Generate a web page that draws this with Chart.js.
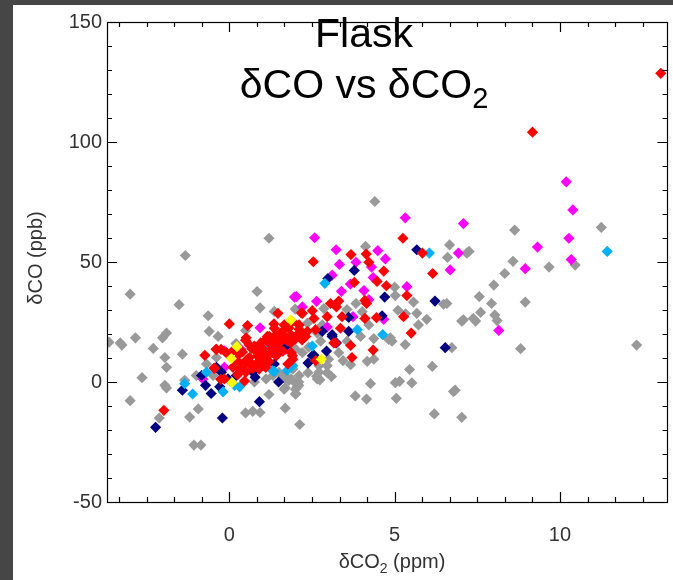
<!DOCTYPE html>
<html>
<head>
<meta charset="utf-8">
<script src="https://cdn.jsdelivr.net/npm/chart.js@4/dist/chart.umd.min.js"></script>
<style>
  html, body { margin: 0; padding: 0; background: #464646; }
  #wrap { position: absolute; left: 13px; top: 5px; width: 660px; height: 575px; background: #fff; }
</style>
</head>
<body>
<div id="wrap"><canvas id="flask"></canvas></div>
<script>
// axis setup
const xTicks = [0, 5, 10];
const yTicks = [-50, 0, 50, 100, 150];
const xRange = [-3.7, 13.25];
const yRange = [-50, 150];
const xMinorStep = 5 / 6;
const yMinorStep = 10;

// dCO2 (ppm), dCO (ppb) pairs, one list per colour group
const grayPts = [
  [1.2, 59.9], [-1.33, 52.7], [-3.0, 36.6], [-1.52, 32.2], [0.84, 37.7], [0.93, 30.9], [-0.64, 27.6], [-0.61, 21.1],
  [-1.9, 20.4], [-2.02, 18.4], [-2.84, 18.4], [-3.3, 16.3], [-3.64, 16.6], [-0.34, 19.0], [0.49, 21.5], [1.36, 29.4],
  [-3.25, 15.4], [-2.3, 14.0], [-1.42, 11.6], [-1.95, 10.2], [-1.9, 6.1], [-2.64, 1.8], [-1.95, -1.4], [-1.9, -2.5],
  [-3.0, -7.8], [-2.12, -15.0], [-0.94, -11.2], [-1.2, -14.6], [-1.07, -26.3], [-0.86, -26.3], [-1.35, 0.7], [-1.0, 2.7],
  [0.49, -12.9], [0.71, -12.2], [0.93, -12.7], [1.2, -5.2], [1.69, -10.9], [1.69, -2.4], [1.77, 1.4],
  [4.12, 56.5], [6.66, 57.1], [6.6, 51.9], [7.18, 53.7], [5.0, 39.5], [5.02, 36.0], [3.83, 32.7], [5.57, 33.3],
  [6.48, 32.4], [6.58, 32.7], [3.56, 30.2], [2.86, 30.6], [5.1, 29.9], [5.67, 28.6], [5.97, 26.1], [7.08, 25.9],
  [7.38, 26.5], [4.87, 18.4], [4.37, 18.1], [4.82, 17.7], [5.32, 15.6], [6.73, 14.3], [4.17, 8.6], [4.37, 9.5],
  [3.44, 8.9], [3.67, 7.2], [5.45, 5.2], [6.14, 6.5], [3.09, 2.3], [4.27, -0.7], [5.02, -0.3], [5.15, 0.3],
  [5.52, -0.4], [6.83, -3.4], [6.78, -4.0], [3.81, -5.8], [4.15, -7.1], [5.05, -6.8], [6.2, -13.3], [7.03, -14.7],
  [2.13, -17.7], [2.71, 4.1], [2.11, 2.7], [2.01, -4.8], [2.06, -2.0], [2.71, 6.8], [2.66, 1.3],
  [8.63, 63.3], [11.25, 64.4], [7.25, 54.4], [8.58, 50.3], [9.67, 47.9], [10.46, 48.7], [8.33, 45.2], [8.0, 40.4],
  [7.56, 35.6], [7.93, 32.7], [8.95, 33.3], [7.6, 29.0], [8.03, 27.9], [8.1, 25.6], [7.45, 25.4], [8.81, 13.9],
  [12.32, 15.4], [4.4, 75.2], [1.66, -3.0], [2.0, -3.0], [2.1, 0.0], [1.8, 0.7], [-0.69, 7.5], [-0.39, 10.2],
  [-0.49, 2.7], [1.92, 5.4], [1.11, 1.3], [1.32, 2.7], [0.76, 0.0], [1.62, 2.7], [1.92, 0.7], [1.87, 16.3],
  [1.92, 18.4], [1.67, 1.6], [2.1, -1.4], [2.0, -5.1], [2.64, 2.4], [2.74, 0.9], [2.38, 3.9], [2.96, 3.9],
  [1.99, 30.4], [5.33, 28.4], [7.03, 25.4], [4.02, 29.3], [4.22, 23.8], [5.72, 23.8], [4.92, 17.0], [3.56, 17.0],
  [3.97, 19.0], [2.81, 23.8], [2.36, 24.5], [2.66, 20.4], [2.01, 13.6], [2.21, 12.2], [2.76, 17.0], [3.31, 12.2],
  [2.96, 6.8], [1.86, 1.3], [0.2, 16.0], [1.5, 4.0], [2.4, 14.5], [3.0, 9.5]
];
const navyPts = [
  [3.78, 46.5], [5.67, 55.1], [2.98, 43.1], [4.7, 35.4], [6.22, 33.7], [3.61, 26.9], [4.62, 27.6], [3.61, 21.1],
  [2.81, 21.1], [3.11, 19.7], [6.53, 14.3], [2.94, 12.9], [2.56, 11.1], [2.38, 7.9], [3.11, 19.0], [2.51, 10.9],
  [-2.23, -18.9], [-0.21, -15.0], [-1.42, -3.4], [-0.84, 2.7], [-0.72, -1.4], [-0.55, -4.8], [0.91, -8.2], [1.49, 0.0],
  [0.78, 2.0], [-0.39, 6.1], [-0.24, 4.1], [-0.04, 1.3], [-0.29, -2.0], [0.21, 2.7], [0.71, 4.1], [1.02, 8.2],
  [1.36, 7.5], [1.52, 12.9], [1.72, 15.0], [1.87, 17.7], [3.24, 16.3]
];
const bluePts = [
  [2.89, 41.1], [6.05, 53.7], [11.43, 54.4], [4.64, 19.7], [3.87, 21.8], [1.86, 7.5], [-1.35, -0.7], [-1.11, -5.0],
  [1.3, 4.8], [1.75, 4.8], [2.51, 15.0], [-0.69, 4.1], [-0.19, -4.1], [0.16, -1.4], [0.31, -2.0], [1.21, 15.0],
  [1.36, 4.4], [1.11, 12.0], [1.92, 6.8]
];
const yellowPts = [
  [0.08, -0.3], [0.23, 14.7], [0.06, 9.8], [1.86, 25.8], [2.78, 9.5]
];
const redPts = [
  [13.05, 128.6], [9.17, 104.1], [5.25, 59.9], [3.68, 53.1], [4.14, 53.3], [2.54, 50.1], [4.22, 49.9], [4.67, 46.2],
  [5.84, 53.7], [6.15, 45.2], [3.78, 41.5], [4.47, 41.9], [4.75, 40.1], [5.37, 36.0], [4.1, 34.0], [4.15, 32.7],
  [3.31, 33.7], [3.06, 32.7], [3.24, 31.3], [2.18, 28.8], [2.56, 26.5], [2.96, 27.2], [3.41, 27.2], [4.1, 26.5],
  [4.45, 26.8], [5.27, 27.2], [5.5, 20.4], [3.36, 22.4], [4.35, 13.3], [3.71, 10.2], [3.21, 16.3], [3.67, 15.2],
  [2.61, 8.9], [1.91, 10.9], [0.0, 24.2], [0.55, 23.5], [1.47, 28.6], [1.35, 24.2], [0.51, 18.4], [-1.98, -11.8],
  [0.46, 0.4], [-0.26, 1.1], [-0.74, 11.1], [-0.39, 13.6], [0.49, 17.4], [0.68, 13.9], [0.85, 10.9], [0.55, 9.5],
  [0.45, 6.8], [0.7, 6.8], [0.9, 5.4], [1.1, 6.1], [0.3, 11.6], [1.1, 11.6], [1.2, 16.3], [1.41, 19.7],
  [1.61, 21.1], [1.86, 19.7], [2.11, 20.4], [2.36, 21.1], [2.31, 19.0], [1.71, 17.7], [1.51, 16.3], [1.86, 16.3],
  [2.11, 23.8], [1.66, 23.8], [1.91, 25.2], [1.36, 22.4], [1.15, 19.0], [0.95, 16.3], [2.61, 21.8], [-0.15, 1.3],
  [0.1, 12.9], [-0.4, 13.6], [0.5, 4.1], [1.3, 13.6], [1.0, 8.2], [2.51, 29.7], [2.21, 28.6], [3.16, 16.3],
  [-0.45, 5.8], [-0.25, 13.6], [2.11, 22.0], [0.76, 15.0], [0.91, 12.2], [0.61, 10.2], [0.81, 7.5], [0.46, 8.2],
  [0.31, 5.4], [0.71, 5.7], [1.02, 6.8], [1.11, 10.2], [1.42, 10.9], [1.62, 12.9], [1.77, 17.0], [1.57, 18.4],
  [1.21, 19.0], [1.87, 12.2], [1.92, 9.5], [1.77, 7.5], [-0.09, 12.2], [0.11, 6.1], [-0.46, 5.7], [1.11, 17.7],
  [1.32, 15.0], [0.2, 9.0], [0.4, 12.5], [0.6, 15.5], [0.8, 13.0], [0.95, 9.5], [1.2, 8.5], [1.3, 12.2],
  [1.5, 14.0], [1.65, 19.0], [1.8, 22.5], [2.0, 18.0], [2.2, 17.5], [1.4, 17.5], [0.65, 8.0], [0.35, 7.5],
  [1.0, 14.0], [0.25, 3.0]
];
const magentaPts = [
  [10.19, 83.4], [10.39, 71.7], [10.27, 59.9], [9.32, 56.2], [10.34, 51.0], [8.95, 47.2], [8.15, 21.5], [5.32, 68.4],
  [7.08, 66.0], [2.58, 60.1], [3.23, 55.1], [4.49, 54.7], [4.72, 51.3], [3.33, 49.0], [3.83, 49.9], [4.3, 47.9],
  [6.93, 53.7], [6.68, 46.7], [3.11, 44.5], [3.66, 40.8], [4.35, 43.5], [5.37, 39.7], [4.07, 38.1], [3.39, 37.8],
  [2.03, 35.6], [2.64, 33.6], [4.22, 34.3], [3.74, 27.2], [4.67, 26.1], [0.93, 22.6], [1.97, 35.4], [-0.14, 12.9],
  [-0.8, 1.3], [0.35, 13.6], [-0.15, 6.1], [2.21, 31.3], [2.96, 22.9], [1.71, 13.6]
];

const FONT = "Helvetica, Arial, 'Liberation Sans', sans-serif";

function group(points, color, order) {
  return {
    data: points.map(([x, y]) => ({ x, y })),
    backgroundColor: color,
    borderWidth: 0,
    pointStyle: "rectRot",
    pointRadius: 5.6,
    pointHoverRadius: 5.6,
    order,
  };
}

// box, inward ticks on all four sides, title and axis titles
const frame = {
  id: "frame",
  afterDatasetsDraw(chart) {
    const { ctx, chartArea: a, scales: { x, y } } = chart;
    ctx.save();
    ctx.strokeStyle = "#000";
    ctx.lineWidth = 1.2;
    ctx.strokeRect(Math.round(a.left) + 0.5, Math.round(a.top) + 0.5, Math.round(a.right - a.left), Math.round(a.bottom - a.top));

    ctx.beginPath();
    for (let k = Math.ceil(xRange[0] / xMinorStep); k * xMinorStep <= xRange[1]; k++) {
      const px = Math.round(x.getPixelForValue(k * xMinorStep)) + 0.5;
      const len = k % 6 === 0 ? 10 : 5;
      ctx.moveTo(px, a.bottom); ctx.lineTo(px, a.bottom - len);
      ctx.moveTo(px, a.top); ctx.lineTo(px, a.top + len);
    }
    for (let v = yRange[0]; v <= yRange[1]; v += yMinorStep) {
      const py = Math.round(y.getPixelForValue(v)) + 0.5;
      const len = v % 50 === 0 ? 10 : 5;
      ctx.moveTo(a.left, py); ctx.lineTo(a.left + len, py);
      ctx.moveTo(a.right, py); ctx.lineTo(a.right - len, py);
    }
    ctx.stroke();

    // title
    const cx = 351;
    ctx.fillStyle = "#000";
    ctx.textBaseline = "alphabetic";
    ctx.textAlign = "center";
    ctx.font = `41px ${FONT}`;
    ctx.fillText("Flask", cx, 42);
    subText(ctx, "\u03b4CO vs \u03b4CO", "2", cx, 93, 41, 29, 10);

    // axis titles
    ctx.fillStyle = "#333";
    subText(ctx, "\u03b4CO", "2", 379, 563, 20, 14, 5, " (ppm)");
    ctx.translate(29, 253);
    ctx.rotate(-Math.PI / 2);
    ctx.textAlign = "center";
    ctx.font = `20px ${FONT}`;
    ctx.fillText("\u03b4CO (ppb)", 0, 0);
    ctx.restore();
  },
};

function subText(ctx, main, sub, cx, base, size, subSize, drop, tail = "") {
  ctx.save();
  ctx.textAlign = "left";
  ctx.font = `${size}px ${FONT}`;
  const w1 = ctx.measureText(main).width;
  const w3 = tail ? ctx.measureText(tail).width : 0;
  ctx.font = `${subSize}px ${FONT}`;
  const w2 = ctx.measureText(sub).width;
  let x0 = cx - (w1 + w2 + w3) / 2;
  ctx.font = `${size}px ${FONT}`;
  ctx.fillText(main, x0, base);
  ctx.font = `${subSize}px ${FONT}`;
  ctx.fillText(sub, x0 + w1, base + drop);
  if (tail) {
    ctx.font = `${size}px ${FONT}`;
    ctx.fillText(tail, x0 + w1 + w2, base);
  }
  ctx.restore();
}

new Chart(document.getElementById("flask"), {
  type: "scatter",
  data: {
    datasets: [
      group(grayPts, "#999999", 6),
      group(magentaPts, "#ff00ff", 5),
      group(navyPts, "#000080", 4),
      group(bluePts, "#00b0f6", 3),
      group(redPts, "#ff0000", 2),
      group(yellowPts, "#ffff00", 1),
    ],
  },
  options: {
    responsive: true,
    maintainAspectRatio: false,
    animation: false,
    layout: { padding: { top: 7, right: 3, left: 0, bottom: 0 } },
    plugins: { legend: { display: false }, tooltip: { enabled: false } },
    scales: {
      x: {
        type: "linear",
        min: xRange[0],
        max: xRange[1],
        afterBuildTicks: (s) => { s.ticks = xTicks.map((v) => ({ value: v })); },
        afterFit: (s) => { s.height = 78; },
        grid: { display: false, drawTicks: false },
        border: { display: false },
        ticks: { padding: 21, color: "#333", font: { size: 20, family: FONT }, maxRotation: 0, autoSkip: false },
      },
      y: {
        type: "linear",
        min: yRange[0],
        max: yRange[1],
        afterBuildTicks: (s) => { s.ticks = yTicks.map((v) => ({ value: v })); },
        afterFit: (s) => { s.width = 94; },
        grid: { display: false, drawTicks: false },
        border: { display: false },
        ticks: { padding: 5, color: "#333", font: { size: 20, family: FONT }, autoSkip: false },
      },
    },
  },
  plugins: [frame],
});
</script>
</body>
</html>
